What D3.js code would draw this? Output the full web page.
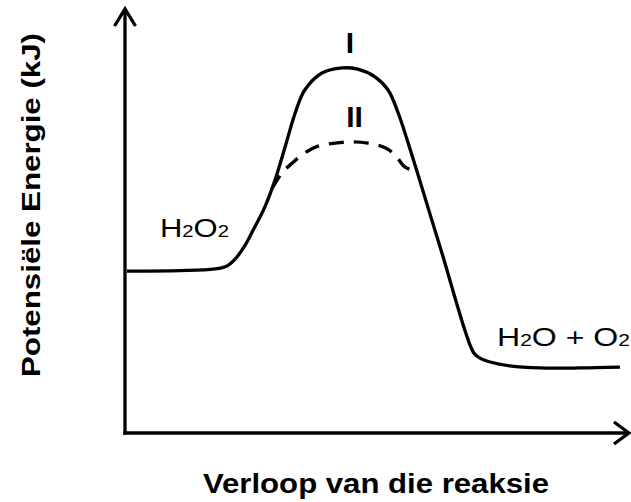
<!DOCTYPE html>
<html>
<head>
<meta charset="utf-8">
<script src="https://cdn.jsdelivr.net/npm/d3@7"></script>
<style>
  html, body { margin: 0; padding: 0; background: #fff; }
  svg { display: block; }
  text { font-family: "Liberation Sans", Arial, Helvetica, sans-serif; fill: #000; }
</style>
</head>
<body>
<svg id="chart" width="631" height="502"></svg>
<script>
// Reaction progress (0-100) and potential energy (0-100, arbitrary units)
const pathI_progress = [0.4, 10.9, 17.8, 20.2, 21.8, 23.8, 25.1, 27.7, 29.7, 31.7, 33.7, 35.6, 39.0, 43.0, 46.1, 49.5, 52.1, 54.1, 56.0, 58.0, 60.4, 63.0, 65.3, 67.3, 68.5, 69.1, 70.3, 72.3, 76.2, 82.2, 90.1, 98.0];
const pathI_energy   = [38.1, 38.2, 38.6, 39.3, 40.9, 44.2, 47.1, 53.2, 59.5, 67.3, 75.3, 80.7, 84.7, 85.9, 85.6, 83.8, 80.7, 75.3, 68.5, 60.9, 51.5, 41.4, 32.0, 24.2, 20.2, 18.8, 17.6, 16.7, 15.8, 15.3, 15.3, 15.5];
const pathII_progress = [29.3, 31.1, 33.1, 35.6, 38.2, 41.6, 45.0, 48.1, 51.5, 53.5, 55.4, 57.6];
const pathII_energy   = [57.9, 61.2, 63.5, 65.9, 67.5, 68.2, 68.5, 68.2, 67.1, 65.4, 62.6, 61.6];
const curveLabels = ["I", "II"];
const speciesLabels = [["H", "2", "O", "2"], ["H", "2", "O + O", "2"]];
const axisTitles = ["Verloop van die reaksie", "Potensiële Energie (kJ)"];

const svg = d3.select("#chart");
const x = d3.scaleLinear().domain([0, 100]).range([125, 630]);
const y = d3.scaleLinear().domain([0, 100]).range([433, 8]);

const SW = 3.3;

// Axes
svg.append("line")
  .attr("x1", x(0) - SW / 2).attr("x2", x(100) - 1)
  .attr("y1", y(0)).attr("y2", y(0))
  .attr("stroke", "#000").attr("stroke-width", SW);
svg.append("line")
  .attr("x1", x(0)).attr("x2", x(0))
  .attr("y1", y(0) + SW / 2).attr("y2", y(100) + 1)
  .attr("stroke", "#000").attr("stroke-width", SW);

// Arrow heads (open chevrons)
svg.append("path")
  .attr("d", `M${x(100) - 16},${y(0) - 11} L${x(100) - 1},${y(0)} L${x(100) - 16},${y(0) + 11}`)
  .attr("fill", "none").attr("stroke", "#000").attr("stroke-width", SW)
  .attr("stroke-linecap", "butt").attr("stroke-linejoin", "miter");
svg.append("path")
  .attr("d", `M${x(0) - 10.5},${y(100) + 18} L${x(0)},${y(100) + 1} L${x(0) + 10.5},${y(100) + 18}`)
  .attr("fill", "none").attr("stroke", "#000").attr("stroke-width", SW)
  .attr("stroke-linecap", "butt").attr("stroke-linejoin", "miter");

// Curves
const line = d3.line().x(d => x(d[0])).y(d => y(d[1])).curve(d3.curveCatmullRom.alpha(0.5));
const dataI = pathI_progress.map((p, i) => [p, pathI_energy[i]]);
const dataII = pathII_progress.map((p, i) => [p, pathII_energy[i]]);

svg.append("path").datum(dataII)
  .attr("d", line)
  .attr("fill", "none").attr("stroke", "#000").attr("stroke-width", 3.4)
  .attr("stroke-dasharray", "15,10").attr("stroke-dashoffset", 2);

svg.append("path").datum(dataI)
  .attr("d", line)
  .attr("fill", "none").attr("stroke", "#000").attr("stroke-width", SW)
  .attr("stroke-linejoin", "round").attr("stroke-linecap", "butt");

// Curve labels
svg.append("text").text(curveLabels[0])
  .attr("x", 350).attr("y", 53).attr("text-anchor", "middle")
  .attr("font-size", 30).attr("font-weight", "bold");
svg.append("text").text(curveLabels[1])
  .attr("x", 354.5).attr("y", 127).attr("text-anchor", "middle")
  .attr("font-size", 30).attr("font-weight", "bold");

// Species labels with subscripts
function species(parts, px, py, len) {
  const t = svg.append("text").attr("x", px).attr("y", py)
    .attr("font-size", 26)
    .attr("textLength", len).attr("lengthAdjust", "spacingAndGlyphs");
  parts.forEach((s, i) => {
    const ts = t.append("tspan").text(s);
    if (i % 2 === 1) ts.attr("font-size", 17);
  });
}
species(speciesLabels[0], 160, 237, 69);
species(speciesLabels[1], 497, 346, 133);

// Axis titles
svg.append("text").text(axisTitles[0])
  .attr("x", 203).attr("y", 493)
  .attr("font-size", 28).attr("font-weight", "bold")
  .attr("textLength", 346).attr("lengthAdjust", "spacingAndGlyphs");
svg.append("text").text(axisTitles[1])
  .attr("transform", "translate(40,377) rotate(-90)")
  .attr("x", 0).attr("y", 0)
  .attr("font-size", 26.5).attr("font-weight", "bold")
  .attr("textLength", 344).attr("lengthAdjust", "spacingAndGlyphs");
</script>
</body>
</html>
